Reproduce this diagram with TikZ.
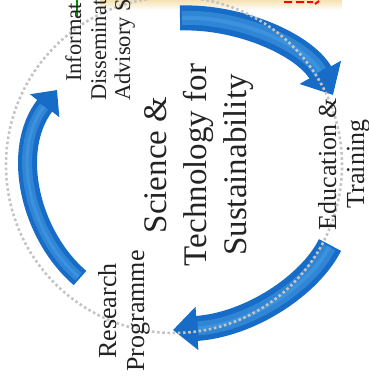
\documentclass[tikz,border=0pt]{standalone}
\usepackage{fontspec}
\setmainfont{Liberation Serif}
\usepackage{tikz}
\usetikzlibrary{arrows.meta, positioning}
\definecolor{cycblue}{RGB}{22,108,198}
\definecolor{cyclight}{RGB}{70,156,226}
\definecolor{ringgray}{RGB}{196,196,196}
\definecolor{textgray}{RGB}{35,35,35}
\definecolor{bandtan}{RGB}{246,226,178}

\begin{document}
\begin{tikzpicture}[
    x=1pt, y=-1pt,
    title/.style={rotate=90, align=center, text=textgray, font=\fontsize{33}{40}\selectfont},
    topic/.style={rotate=90, align=center, text=textgray, font=\fontsize{26}{28}\selectfont},
    cut/.style={rotate=90, anchor=base west, inner sep=0pt, text=textgray, font=\fontsize{22.5}{25}\selectfont},
    cyc/.style={draw=cycblue, line width=#1},
    gloss/.style={draw=cyclight, line width=#1, opacity=0.55, -, shorten <=2pt},
    ring/.style={draw=ringgray, line width=2.6pt, dash pattern=on 2.6pt off 2.6pt},
]
    \useasboundingbox (0,0) rectangle (369,388);
    \clip (0,0) rectangle (369,388);

    % cut-off edge of the page above
    \shade[top color=bandtan, bottom color=white] (100,0) rectangle (342,10);
    \draw[green!55!black, line width=1.2pt] (77,0) -- (77,17);
    \draw[red, line width=2pt] (284,2) -- (292,2) (296,2) -- (304,2) (307,2) -- (313,2) (315,4) -- (319,1);

    \coordinate (hub) at (174,165);
    \coordinate (a1s) at (180,18);
    \coordinate (a1e) at (333,95);
    \coordinate (a2s) at (330,245);
    \coordinate (a2e) at (173,330);
    \coordinate (a3s) at (80,278);
    \coordinate (a3e) at (57,90);

    % cycle arrows
    \draw[cyc=25pt, -{Triangle[width=46pt, length=26pt]},
          postaction={gloss=14pt, shorten >=27pt}, postaction={gloss=4pt, shorten >=27pt}]
        (a1s) .. controls (240,16) and (305,45) .. (a1e);
    \draw[cyc=25pt, -{Triangle[width=42pt, length=24pt]},
          postaction={gloss=14pt, shorten >=25pt}, postaction={gloss=4pt, shorten >=25pt}]
        (a2s) .. controls (310,285) and (250,325) .. (a2e);
    \draw[cyc=19pt, -{Triangle[width=36pt, length=20pt]},
          postaction={gloss=10pt, shorten >=21pt}, postaction={gloss=3pt, shorten >=21pt}]
        (a3s) .. controls (30,235) and (10,150) .. (a3e);

    \draw[ring] (hub) circle[radius=168pt];

    \node[title] (sts) at (199,165) {Science \&\\Technology for\\Sustainability};
    \node[topic] (res) at (124,311) {Research\\Programme};
    \node[topic] (edu) at (344,164) {Education \&\\Training};
    \node[cut] (inf1) at (81,82) {Informat};
    \node[cut] (inf2) at (106,101) {Disseminat};
    \node[cut] (inf3) at (130,101) {Advisory S};
\end{tikzpicture}
\end{document}
